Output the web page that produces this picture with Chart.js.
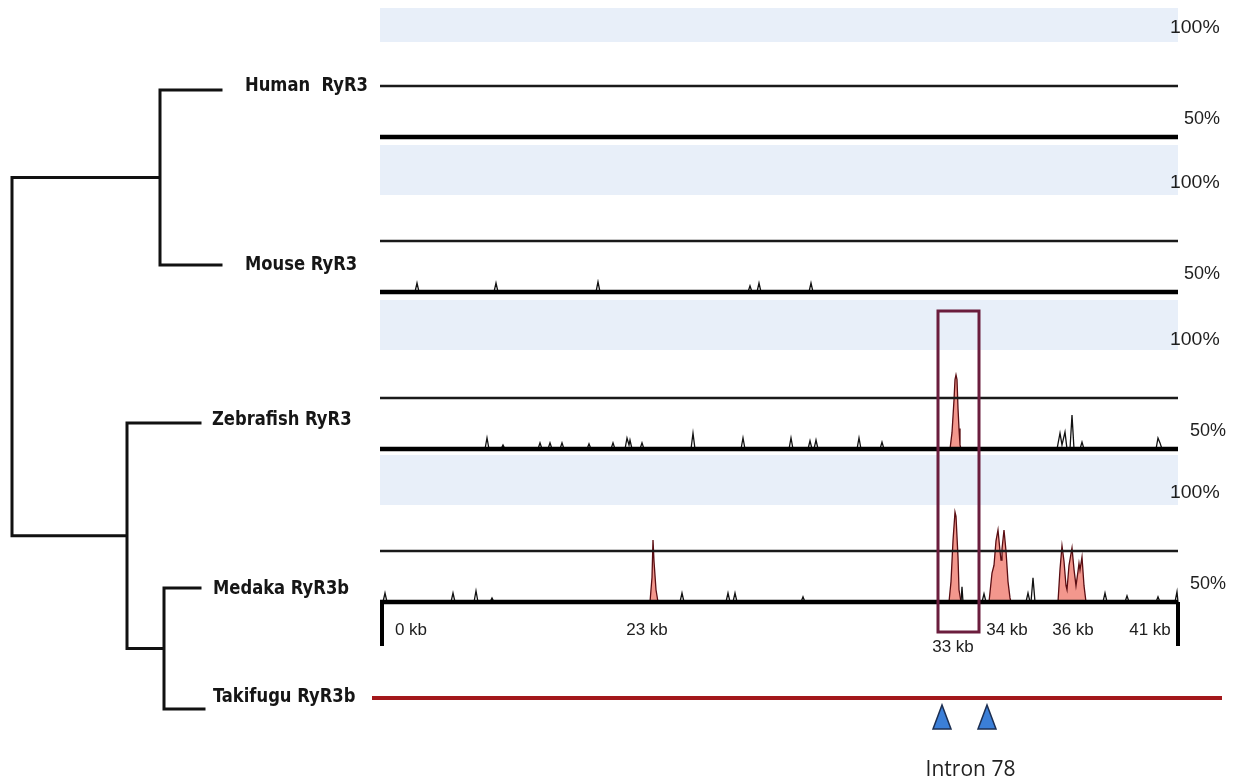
<!DOCTYPE html>
<html><head><meta charset="utf-8">
<script src="https://cdn.jsdelivr.net/npm/chart.js@4.4.1/dist/chart.umd.min.js"></script>
<style>html,body{margin:0;padding:0;background:#fff;}canvas{display:block;}</style>
</head><body>
<canvas id="c" width="1244" height="784"></canvas>
<script>
// ================= DATA =================
// alignment positions (arbitrary alignment units) and % identity values of each VISTA track
const alignmentSpan = [0, 798];
const trackNames = ['Human RyR3', 'Mouse RyR3', 'Zebrafish RyR3', 'Medaka RyR3b'];

const humanPos = [0, 798];
const humanPct = [50, 50];

const mousePos = [0, 35, 37, 39, 114, 116, 118, 216, 218, 220, 368, 370, 372, 377, 379, 381, 429, 431, 433, 798];
const mousePct = [50, 50, 54.4, 50, 50, 54.4, 50, 50, 55, 50, 50, 53, 50, 50, 54.4, 50, 50, 54.4, 50, 50];

const zebrafishPos = [0, 105, 107, 109, 121, 123, 125, 158, 160, 162, 168, 170, 172, 180, 182, 184, 207, 209, 211,
  231, 233, 235, 245, 247, 249, 250, 252, 260, 262, 264, 311, 313, 315, 361, 363, 365, 409, 411, 413,
  428, 430, 432, 434, 436, 438, 477, 479, 481, 500, 502, 504,
  570, 572, 574, 575, 576, 577, 578, 579, 580, 581,
  677, 680, 682, 685, 687, 690, 692, 694, 700, 702, 704, 776, 778, 780, 782, 798];
const zebrafishPct = [50, 50, 55.4, 50, 50, 52, 50, 50, 53, 50, 50, 53, 50, 50, 53, 50, 50, 52.5, 50,
  50, 53, 50, 50, 55.4, 52, 54.4, 50, 50, 53, 50, 50, 57.8, 50, 50, 55.4, 50, 50, 55.4, 50,
  50, 54, 50, 50, 54.4, 50, 50, 55.4, 50, 50, 53.4, 50,
  50, 58, 74, 84, 86.3, 84, 70, 60, 52, 50,
  50, 57.8, 52, 58.3, 50, 50, 66.7, 50, 50, 53.4, 50, 50, 55.4, 53, 50, 50];

const medakaPos = [0, 3, 5, 7, 71, 73, 75, 94, 96, 98, 110, 112, 114,
  270, 272, 273, 274, 276, 278, 300, 302, 304, 346, 348, 350, 353, 355, 357, 421, 423, 425,
  569, 571, 573, 575, 576, 578, 579, 581, 582, 583, 602, 604, 606,
  609, 612, 614, 616, 618, 620, 621, 622, 624, 626, 628, 630, 631,
  646, 648, 650, 651, 653, 655,
  678, 680, 682, 684, 686, 687, 689, 692, 694, 696, 698, 699, 700, 702, 704, 706,
  723, 725, 727, 745, 747, 749, 776, 778, 780, 795, 797, 798];
const medakaPct = [50, 50, 54.4, 50, 50, 54.4, 50, 50, 55.4, 50, 50, 52, 50,
  50, 62, 80.4, 70, 56, 50, 50, 54.4, 50, 50, 54.4, 50, 50, 54.4, 50, 50, 52.5, 50,
  50, 60, 80, 94.1, 92, 72, 56, 50, 57.4, 50, 50, 54, 50,
  50, 64.2, 68, 80, 85.3, 75, 70.6, 76, 85.3, 75, 60, 52, 50,
  50, 54.4, 50, 50, 61.8, 50,
  50, 66, 77.5, 70, 58, 56, 68, 76.5, 66, 58, 65, 69, 65.7, 72, 58, 50,
  50, 54.4, 50, 50, 53, 50, 50, 52.5, 50, 50, 55, 50];

// conserved (shaded) regions: [start, end] in alignment units
const humanConserved = [];
const mouseConserved = [];
const zebrafishConserved = [[570, 581]];
const medakaConserved = [[270, 278], [569, 581], [609, 631], [678, 706]];

const thresholdPct = 75;
const baselinePct = 50;
const pctTickLabels = ['100%', '50%'];

const kbTickLabels = ['0 kb', '23 kb', '33 kb', '34 kb', '36 kb', '41 kb'];
const kbTickPos = [31, 267, 573, 627, 693, 770];
const axisEndTicks = [2, 798];

const highlightRange = [558, 599];
const intronLabel = 'Intron 78';
const intronPos = [562, 607];

// phylogeny
const treeLeaves = ['Human  RyR3', 'Mouse RyR3', 'Zebrafish RyR3', 'Medaka RyR3b', 'Takifugu RyR3b'];
const leafDepth = [209, 209, 188, 188, 192];
const treeNodes = ['root', 'mammals', 'fish', 'medakaFugu'];
const nodeDepth = [0, 148, 115, 152];
const nodeChildren = [['mammals', 'fish'], ['Human  RyR3', 'Mouse RyR3'], ['Zebrafish RyR3', 'medakaFugu'], ['Medaka RyR3b', 'Takifugu RyR3b']];

// ================= LAYOUT (positions / styles) =================
const W = 1244, H = 784;
const PLOT_LEFT_PX = 380;
const PANEL_BASE_PX = [137, 292, 449, 602];
const PX_PER_PCT = 2.04;
const BAND_PCT = [[96.6, 113.2], [97.5, 122], [98.5, 123], [97.5, 122]];
const TREE_ROOT_PX = 12;
const TREE_LEAF_Y = [90, 265, 423, 588, 709];
const TREE_LABEL_GAP = [24, 24, 12, 13, 9];
const TREE_LABEL_DY = [-4, 0, -3, 1, -12];
const FUGU_TRACK_Y = 698;
const INTRON_MARK_Y = 717;
const HIGHLIGHT_Y = [311, 632];
const AXIS_TICK_BOTTOM_PCT = 28.4;

const yIds = ['yHuman', 'yMouse', 'yZebrafish', 'yMedaka'];
const curves = [[humanPos, humanPct], [mousePos, mousePct], [zebrafishPos, zebrafishPct], [medakaPos, medakaPct]];
const conservedAll = [humanConserved, mouseConserved, zebrafishConserved, medakaConserved];

function pts(pos, pct) { return pos.map((p, i) => ({ x: p, y: pct[i] })); }
function inRegions(a, b, regs) { return regs.some(r => a >= r[0] && b <= r[1]); }

const datasets = [];
yIds.forEach((id, i) => {
  const [pos, pct] = curves[i];
  const regs = conservedAll[i];
  datasets.push({ xAxisID: 'x', yAxisID: id, data: [{ x: alignmentSpan[0], y: BAND_PCT[i][1] }, { x: alignmentSpan[1], y: BAND_PCT[i][1] }],
    fill: { value: BAND_PCT[i][0] }, backgroundColor: '#e8eff9', borderWidth: 0, borderColor: 'rgba(0,0,0,0)', order: 100 });
  regs.forEach(r => {
    const sub = pos.map((p, k) => ({ x: p, y: pct[k] })).filter(d => d.x >= r[0] && d.x <= r[1]);
    datasets.push({ xAxisID: 'x', yAxisID: id, data: sub, fill: { value: baselinePct }, backgroundColor: '#f3978d', borderWidth: 0, borderColor: 'rgba(0,0,0,0)', order: 60 });
  });
  datasets.push({ xAxisID: 'x', yAxisID: id, data: pts(pos, pct), fill: false, borderColor: '#111', borderWidth: 1.3,
    segment: { borderColor: c => inRegions(c.p0.parsed.x, c.p1.parsed.x, regs) ? '#5a0d12' : '#111' }, order: 50 });
  datasets.push({ xAxisID: 'x', yAxisID: id, data: [{ x: alignmentSpan[0], y: thresholdPct }, { x: alignmentSpan[1], y: thresholdPct }],
    fill: false, borderColor: '#1a1a1a', borderWidth: 2.5, order: 40 });
  datasets.push({ xAxisID: 'x', yAxisID: id, data: [{ x: alignmentSpan[0], y: baselinePct }, { x: alignmentSpan[1], y: baselinePct }],
    fill: false, borderColor: '#000', borderWidth: 4.5, order: 30 });
});
// axis end ticks
const tickData = [];
axisEndTicks.forEach(p => { tickData.push({ x: p, y: baselinePct }, { x: p, y: AXIS_TICK_BOTTOM_PCT }, { x: p, y: null }); });
datasets.push({ xAxisID: 'x', yAxisID: 'yMedaka', data: tickData, fill: false, borderColor: '#000', borderWidth: 4, spanGaps: false, order: 20 });

// Takifugu reference track
datasets.push({ xAxisID: 'x', yAxisID: 'yt', data: [{ x: alignmentSpan[0] - 8, y: FUGU_TRACK_Y }, { x: alignmentSpan[1] + 44, y: FUGU_TRACK_Y }],
  fill: false, borderColor: '#a3181b', borderWidth: 4, order: 20 });

// intron markers
const tri = document.createElement('canvas');
tri.width = 22; tri.height = 28;
(function () {
  const g = tri.getContext('2d');
  g.beginPath(); g.moveTo(2, 26); g.lineTo(11, 2); g.lineTo(20, 26); g.closePath();
  g.fillStyle = '#3b7fd8'; g.fill(); g.lineWidth = 1.5; g.strokeStyle = '#1c2f52'; g.stroke();
})();
datasets.push({ xAxisID: 'x', yAxisID: 'yt', data: intronPos.map(p => ({ x: p, y: INTRON_MARK_Y })), showLine: false,
  pointStyle: tri, pointRadius: 12, order: 10 });

// tree
const leafIdx = {}; treeLeaves.forEach((n, i) => leafIdx[n] = i);
const nodeIdx = {}; treeNodes.forEach((n, i) => nodeIdx[n] = i);
function depthOf(n) { return n in leafIdx ? leafDepth[leafIdx[n]] : nodeDepth[nodeIdx[n]]; }
function yOf(n) {
  if (n in leafIdx) return TREE_LEAF_Y[leafIdx[n]];
  const ch = nodeChildren[nodeIdx[n]];
  return (yOf(ch[0]) + yOf(ch[ch.length - 1])) / 2;
}
const treeData = [];
treeNodes.forEach((n, i) => {
  const d = nodeDepth[i], ch = nodeChildren[i];
  treeData.push({ x: d, y: yOf(ch[0]) }, { x: d, y: yOf(ch[ch.length - 1]) }, { x: d, y: null });
  ch.forEach(c => { treeData.push({ x: d, y: yOf(c) }, { x: depthOf(c), y: yOf(c) }, { x: d, y: null }); });
});
datasets.push({ xAxisID: 'xt', yAxisID: 'yt', data: treeData, fill: false, borderColor: '#111', borderWidth: 3,
  borderCapStyle: 'square', spanGaps: false, order: 10 });

// scales
const scales = {
  x: { type: 'linear', display: false, min: -PLOT_LEFT_PX, max: W - PLOT_LEFT_PX },
  xt: { type: 'linear', axis: 'x', display: false, min: -TREE_ROOT_PX, max: W - TREE_ROOT_PX },
  yt: { type: 'linear', axis: 'y', display: false, reverse: true, min: 0, max: H }
};
yIds.forEach((id, i) => {
  const B = PANEL_BASE_PX[i];
  scales[id] = { type: 'linear', axis: 'y', display: false, min: baselinePct - (H - B) / PX_PER_PCT, max: baselinePct + B / PX_PER_PCT };
});

function scaledText(ctx, t, x, y, sx) {
  ctx.save(); ctx.translate(x, y); ctx.scale(sx, 1); ctx.fillText(t, 0, 0); ctx.restore();
}

const textPlugin = {
  id: 'texts',
  afterDatasetsDraw(chart) {
    const ctx = chart.ctx, sx = chart.scales.x, st = chart.scales.xt, yt = chart.scales.yt;
    ctx.save();
    // highlight box
    const x0 = sx.getPixelForValue(highlightRange[0]), x1 = sx.getPixelForValue(highlightRange[1]);
    ctx.strokeStyle = '#6b1d3d'; ctx.lineWidth = 3;
    ctx.strokeRect(x0, HIGHLIGHT_Y[0], x1 - x0, HIGHLIGHT_Y[1] - HIGHLIGHT_Y[0]);
    // tree labels
    ctx.fillStyle = '#161616'; ctx.textBaseline = 'middle'; ctx.textAlign = 'left';
    ctx.font = 'bold 20px "Liberation Sans Narrow", "DejaVu Sans Condensed", sans-serif';
    treeLeaves.forEach((n, i) => {
      scaledText(ctx, n, st.getPixelForValue(leafDepth[i]) + TREE_LABEL_GAP[i], yt.getPixelForValue(TREE_LEAF_Y[i]) + TREE_LABEL_DY[i], 0.91);
    });
    // kb labels
    ctx.fillStyle = '#1e1e1e'; ctx.textAlign = 'center';
    ctx.font = '17px "Liberation Sans", Arial, sans-serif';
    const baseY = chart.scales.yMedaka.getPixelForValue(baselinePct);
    kbTickLabels.forEach((t, i) => {
      ctx.fillText(t, sx.getPixelForValue(kbTickPos[i]), baseY + (t === '33 kb' ? 45 : 28));
    });
    // percent labels
    ctx.textAlign = 'left';
    ctx.font = '18px "Liberation Sans", Arial, sans-serif';
    yIds.forEach((id, i) => {
      const ys = chart.scales[id];
      scaledText(ctx, pctTickLabels[0], sx.getPixelForValue(alignmentSpan[1]) - 8, ys.getPixelForValue(103.5), 1.08);
      scaledText(ctx, pctTickLabels[1], sx.getPixelForValue(alignmentSpan[1]) + (i < 2 ? 6 : 12), ys.getPixelForValue(59), 1.0);
    });
    // intron label
    ctx.textAlign = 'center'; ctx.fillStyle = '#222';
    ctx.font = '21px "Open Sans", "Noto Sans", sans-serif';
    ctx.fillText(intronLabel, (sx.getPixelForValue(intronPos[0]) + sx.getPixelForValue(intronPos[1])) / 2 + 6, yt.getPixelForValue(770));
    ctx.restore();
  }
};

Chart.defaults.elements.point.radius = 0;
Chart.defaults.elements.line.tension = 0;

new Chart(document.getElementById('c'), {
  type: 'line',
  data: { datasets },
  options: {
    responsive: false, animation: false, events: [],
    devicePixelRatio: 1,
    layout: { padding: 0, autoPadding: false },
    plugins: { legend: { display: false }, tooltip: { enabled: false } },
    scales
  },
  plugins: [textPlugin]
});
</script>
</body></html>
